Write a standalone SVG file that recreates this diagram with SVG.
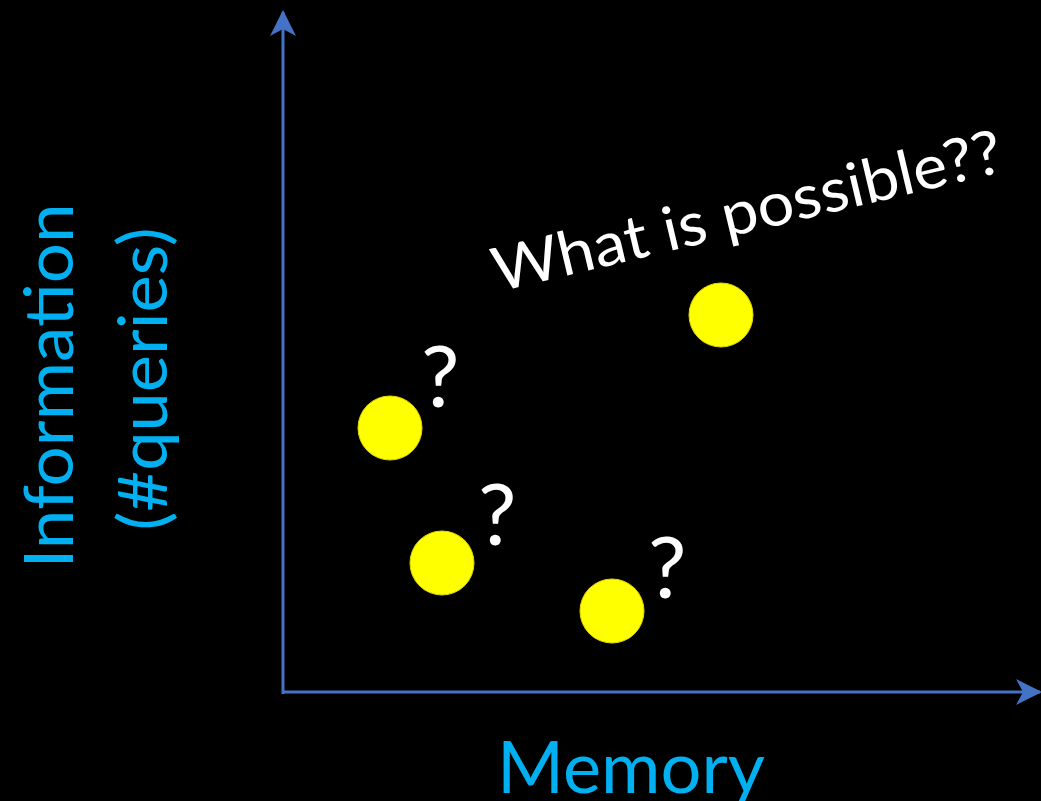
<svg xmlns="http://www.w3.org/2000/svg" width="1041" height="801" viewBox="0 0 1041 801">
  <style>
    .axis { stroke: #4472C4; stroke-width: 3; fill: none; }
    .label { font-family: Lato, "Open Sans", sans-serif; fill: #00B0F0; }
    .note { font-family: Lato, "Open Sans", sans-serif; fill: #FFFFFF; }
    .dot { fill: #FFFF00; stroke: #E0D800; stroke-width: 1; }
  </style>
  <defs>
    <marker id="arrow" viewBox="0 0 26 26" refX="24" refY="13" markerWidth="26" markerHeight="26" markerUnits="userSpaceOnUse" orient="auto">
      <path d="M0,0 L26,13 L0,26 L7,13 Z" fill="#4472C4"/>
    </marker>
  </defs>
  <rect width="1041" height="801" fill="#000000"/>

  <g id="axes">
    <line class="axis" x1="283" y1="694" x2="283" y2="12" marker-end="url(#arrow)"/>
    <line class="axis" x1="282" y1="692" x2="1040" y2="692" marker-end="url(#arrow)"/>
  </g>

  <g id="y-label">
    <text class="label" font-size="67" transform="translate(73,386) rotate(-90)" text-anchor="middle" textLength="365" lengthAdjust="spacingAndGlyphs">Information</text>
    <text class="label" font-size="67" transform="translate(167,379) rotate(-90)" text-anchor="middle" textLength="303" lengthAdjust="spacingAndGlyphs">(#queries)</text>
  </g>

  <g id="x-label">
    <text class="label" font-size="71" x="631" y="793" text-anchor="middle" textLength="268" lengthAdjust="spacingAndGlyphs">Memory</text>
  </g>

  <g id="title">
    <text class="note" font-size="61" transform="translate(498,292) rotate(-13.4)" textLength="522" lengthAdjust="spacingAndGlyphs">What is possible??</text>
  </g>

  <g id="point-1">
    <circle class="dot" cx="390" cy="428" r="32"/>
    <text class="note" font-size="86" x="421" y="407">?</text>
  </g>
  <g id="point-2">
    <circle class="dot" cx="442" cy="563" r="32"/>
    <text class="note" font-size="86" x="478" y="545">?</text>
  </g>
  <g id="point-3">
    <circle class="dot" cx="612" cy="611" r="32"/>
    <text class="note" font-size="86" x="648" y="598">?</text>
  </g>
  <g id="point-4">
    <circle class="dot" cx="721" cy="315" r="32"/>
  </g>
</svg>
